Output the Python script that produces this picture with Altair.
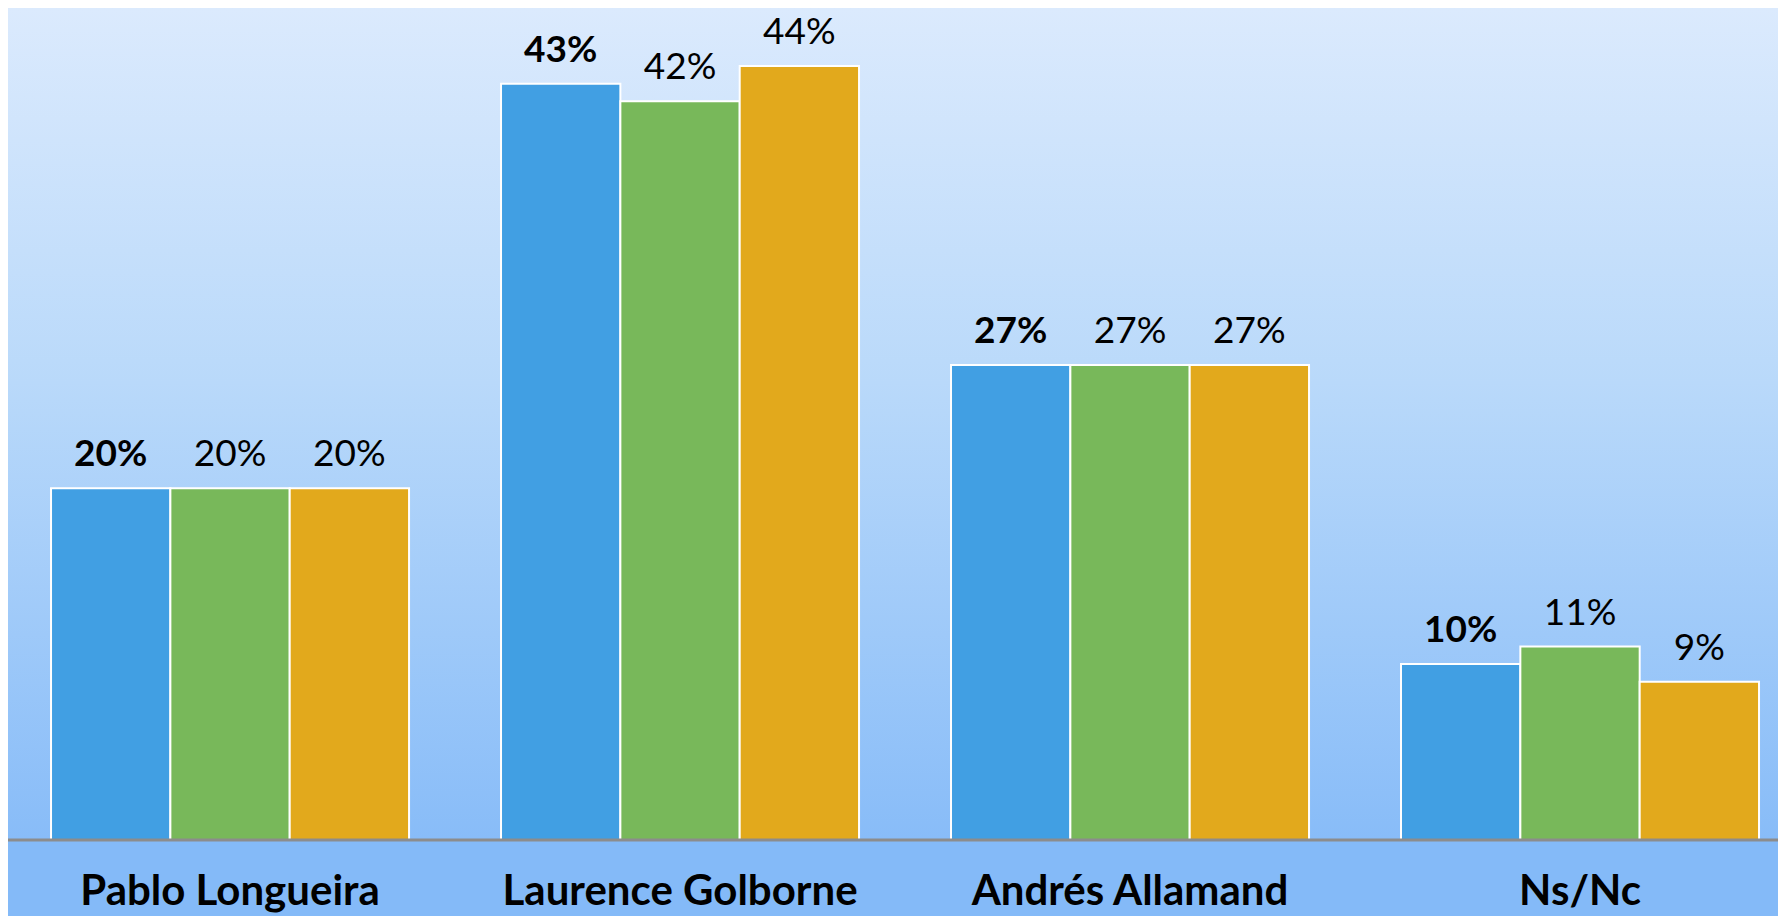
import altair as alt
import pandas as pd

categories = ["Pablo Longueira", "Laurence Golborne", "Andrés Allamand", "Ns/Nc"]
series = ["Serie 1", "Serie 2", "Serie 3"]
serie1 = [20, 43, 27, 10]
serie2 = [20, 42, 27, 11]
serie3 = [20, 44, 27, 9]
colors = ["#419fe3", "#78b85a", "#e2a91c"]

rows = []
for name, vals in zip(series, [serie1, serie2, serie3]):
    for c, v in zip(categories, vals):
        rows.append({"cat": c, "serie": name, "value": v, "label": f"{v}%"})
df = pd.DataFrame(rows)

W, H = 1770, 832
FONT = "Lato"

x = alt.X("cat:N", sort=categories, title=None,
          scale=alt.Scale(paddingInner=0.2044, paddingOuter=0.0689, align=0.694),
          axis=alt.Axis(domain=False, ticks=False, tickSize=0, grid=False,
                        labelAngle=0, labelFont=FONT, labelFontSize=42,
                        labelFontWeight="bold", labelColor="black", labelLimit=2000,
                        labelPadding=64, labelBaseline="alphabetic"))
y = alt.Y("value:Q", title=None, axis=None,
          scale=alt.Scale(domain=[0, 47.3], nice=False, zero=True))
xoff = alt.XOffset("serie:N", sort=series, scale=alt.Scale(paddingInner=0, paddingOuter=0))

bg = alt.Chart(alt.Data(values=[{}])).mark_rect(
    color=alt.Gradient(
        gradient="linear",
        stops=[alt.GradientStop(color="#dbeafd", offset=0),
               alt.GradientStop(color="#b9d9fa", offset=0.45),
               alt.GradientStop(color="#88bcf8", offset=1)],
        x1=0, x2=0, y1=0, y2=1),
    clip=False
).encode(x=alt.value(0), x2=alt.value(W), y=alt.value(0), y2=alt.value(H))

bars = alt.Chart(df).mark_bar(stroke="white", strokeWidth=2).encode(
    x=x, y=y, xOffset=xoff,
    color=alt.Color("serie:N", sort=series,
                    scale=alt.Scale(domain=series, range=colors), legend=None),
)

text_bold = alt.Chart(df).transform_filter(alt.datum.serie == series[0]).mark_text(
    font=FONT, fontSize=37, fontWeight="bold", color="black",
    baseline="alphabetic", dy=-22
).encode(x=x, y=y, xOffset=xoff, text="label:N")

text_norm = alt.Chart(df).transform_filter(alt.datum.serie != series[0]).mark_text(
    font=FONT, fontSize=37, fontWeight="normal", color="black",
    baseline="alphabetic", dy=-22
).encode(x=x, y=y, xOffset=xoff, text="label:N")

base_rule = alt.Chart(alt.Data(values=[{"v": 0}])).mark_rule(
    color="#8c8c8c", strokeWidth=3
).encode(y=alt.Y("v:Q", scale=alt.Scale(domain=[0, 47.3], nice=False)),
         x=alt.value(0), x2=alt.value(W))

chart = alt.layer(bg, bars, text_bold, text_norm, base_rule).resolve_scale(
    y="shared"
).properties(
    width=W, height=H,
    autosize=alt.AutoSizeParams(type="none"),
    padding={"left": 0, "top": 0, "right": 0, "bottom": 76},
    background="#84baf8",
).configure_view(stroke=None)

chart.save("out.html", embed_options={"renderer": "svg", "actions": False})
